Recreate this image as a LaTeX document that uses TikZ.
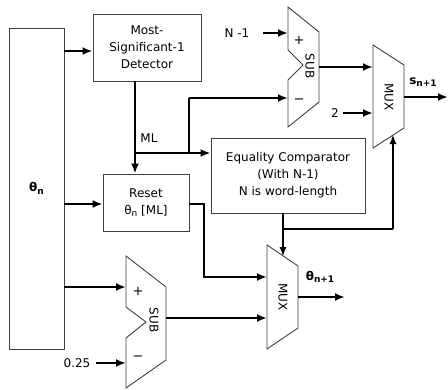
\documentclass[tikz,border=0pt]{standalone}
\usepackage{fontspec}
\setmainfont{DejaVu Sans}
\usetikzlibrary{arrows.meta}
\begin{document}
\begin{tikzpicture}[x=1pt,y=-1pt,
  box/.style={draw=black!75,line width=0.9pt,fill=white,align=center,inner sep=0pt,font=\fontsize{12}{17}\selectfont},
  shp/.style={draw=black!75,line width=0.9pt,fill=white},
  bus/.style={line width=2pt,-{Latex[length=10pt,width=8pt]}},
  bline/.style={line width=2pt},
  sig/.style={line width=1.1pt,-{Latex[length=9pt,width=7pt]}},
  lbl/.style={font=\fontsize{12}{14}\selectfont,inner sep=1pt},
  rot/.style={rotate=-90,font=\fontsize{12}{14}\selectfont,inner sep=0pt},
  pm/.style={font=\fontsize{13}{14}\selectfont,inner sep=0pt}]
\useasboundingbox (0,0) rectangle (448,389);
% boxes
\node[box,minimum width=55,minimum height=321] (theta) at (36.5,188.5) {\textbf{θ\raisebox{-0.35ex}{\small n}}};
\node[box,minimum width=108,minimum height=67] (msd) at (147,47.5) {Most-\\Significant-1\\Detector};
\node[box,minimum width=86,minimum height=57] (reset) at (146,202.5) {Reset\\θ\raisebox{-0.35ex}{\small n} [ML]};
\node[box,minimum width=154,minimum height=75] (comp) at (288,175.5) {Equality Comparator\\(With N-1)\\N is word-length};
% top SUB
\draw[shp] (288,7) -- (319,32) -- (319,102) -- (288,127) -- (288,80) -- (303,65) -- (288,50) -- cycle;
\node[rot] (subt) at (310,66) {SUB};
\node[pm] (subtp) at (299,40) {+};
\node[pm] (subtm) at (299,101) {−};
\coordinate (subtA) at (288,33);
\coordinate (subtB) at (288,98);
\coordinate (subtO) at (319,67);
% top MUX
\draw[shp] (373,45) -- (404,65) -- (404,128) -- (373,148) -- cycle;
\node[rot] (muxt) at (389,97) {MUX};
\coordinate (muxtA) at (373,67);
\coordinate (muxtB) at (373,113);
\coordinate (muxtO) at (404,97);
\coordinate (muxtS) at (393,135);
% bottom SUB
\draw[shp] (126,256) -- (166,287) -- (166,360) -- (126,388) -- (126,338) -- (146,322) -- (126,307) -- cycle;
\node[rot] (subb) at (154,320) {SUB};
\node[pm] (subbp) at (138,291) {+};
\node[pm] (subbm) at (138,358) {−};
\coordinate (subbA) at (126,287);
\coordinate (subbB) at (126,363);
\coordinate (subbO) at (166,318);
% bottom MUX
\draw[shp] (267,245) -- (298,266) -- (298,328) -- (267,349) -- cycle;
\node[rot] (muxb) at (283,297) {MUX};
\coordinate (muxbA) at (267,277);
\coordinate (muxbB) at (267,318);
\coordinate (muxbO) at (298,297);
\coordinate (muxbS) at (283,256);
% labels
\node[lbl] (nm1) at (237,33) {N -1};
\node[lbl] (two) at (335,113) {2};
\node[lbl] (q) at (77,363) {0.25};
\node[lbl] (mllbl) at (149,138) {ML};
\node[lbl] (sout) at (423,82) {\textbf{s\raisebox{-0.35ex}{\small n+1}}};
\node[lbl] (tout) at (320,277) {\textbf{θ\raisebox{-0.35ex}{\small n+1}}};
\coordinate (sEnd) at (448,97);
\coordinate (tEnd) at (345,297);
% connectors
\coordinate (ml) at (135,153);
\coordinate (br) at (189,153);
\draw[bus] (theta.east |- 0,51) -- (msd.west |- 0,51);
\draw[bus] (msd.south -| ml) -- (reset.north -| ml);
\draw[bus] (ml) -- (comp.west |- ml);
\draw[bline] (br) -- (br |- subtB);
\draw[bus] (br |- subtB) -- (subtB);
\draw[bus] ([xshift=12]nm1.east) -- (subtA);
\draw[bus] (subtO) -- (muxtA);
\draw[bus] ([xshift=3]two.east) -- (muxtB);
\draw[bus] (muxtO) -- (sEnd);
\draw[line width=1.1pt] (comp.south -| muxbS) -- (muxbS |- 0,229) -- (muxtS |- 0,229);
\draw[sig] (muxtS |- 0,229) -- (muxtS);
\draw[sig] (comp.south -| muxbS) -- (muxbS);
\draw[bus] (theta.east |- 0,204) -- (reset.west |- 0,204);
\draw[bus] (reset.east |- 0,204) -- (204,204) -- (204,277) -- (muxbA);
\draw[bus] (theta.east |- subbA) -- (subbA);
\draw[bus] ([xshift=4]q.east) -- (subbB);
\draw[bus] (subbO) -- (muxbB);
\draw[bus] (muxbO) -- (tEnd);
\end{tikzpicture}
\end{document}
